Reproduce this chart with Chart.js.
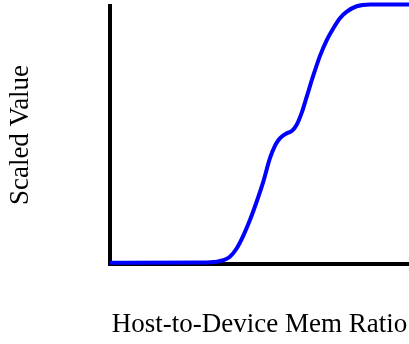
<!DOCTYPE html>
<html>
<head>
<meta charset="utf-8">
<script src="https://cdn.jsdelivr.net/npm/chart.js@4"></script>
<style>
  html, body { margin: 0; padding: 0; background: #fff; }
  canvas { display: block; }
</style>
</head>
<body>
<canvas id="c" width="409" height="344"></canvas>
<script>
// Curve samples (x: 0-100 across the plot, y: scaled 0-1)
const ratioX = [0, 30.1, 35.7, 37.9, 40.1, 42.4, 44.6, 46.8, 49.1, 51.3, 53.5, 55.2, 56.3, 57.4, 59.1, 60.8, 62.4, 64.1, 65.8, 68.0, 70.2, 72.5, 74.7, 76.9, 79.2, 82.5, 87.0, 100];
const scaledY = [0, 0.001, 0.004, 0.010, 0.023, 0.056, 0.105, 0.165, 0.238, 0.315, 0.405, 0.453, 0.474, 0.488, 0.501, 0.510, 0.533, 0.580, 0.643, 0.725, 0.800, 0.862, 0.908, 0.947, 0.972, 0.993, 1.0, 1.0];

const xTitle = 'Host-to-Device Mem Ratio';
const yTitle = 'Scaled Value';

const serif = '"Liberation Serif", "Times New Roman", Times, serif';

new Chart(document.getElementById('c'), {
  type: 'line',
  data: {
    datasets: [{
      data: ratioX.map((x, i) => ({ x: x, y: scaledY[i] })),
      borderColor: '#0000ff',
      borderWidth: 4,
      pointRadius: 0,
      fill: false,
      cubicInterpolationMode: 'monotone',
      clip: false
    }]
  },
  options: {
    responsive: false,
    animation: false,
    devicePixelRatio: 1,
    layout: { padding: { top: 6, right: 0, bottom: 0, left: 0 } },
    plugins: { legend: { display: false }, tooltip: { enabled: false } },
    scales: {
      x: {
        type: 'linear',
        min: 0,
        max: 100,
        grid: { display: false, drawTicks: false },
        border: { display: true, color: '#000', width: 4 },
        ticks: { display: false },
        title: {
          display: true,
          text: xTitle,
          color: '#000',
          font: { family: serif, size: 27, lineHeight: 1.2 },
          padding: { top: 45.2, bottom: 2.4 }
        }
      },
      y: {
        min: -0.005,
        max: 0.994,
        grid: { display: false, drawTicks: false },
        border: { display: true, color: '#000', width: 4 },
        ticks: { display: false },
        title: {
          display: true,
          text: yTitle,
          color: '#000',
          font: { family: serif, size: 27, lineHeight: 1.2 },
          padding: { top: 5.2, bottom: 72.4 }
        }
      }
    }
  }
});
</script>
</body>
</html>
